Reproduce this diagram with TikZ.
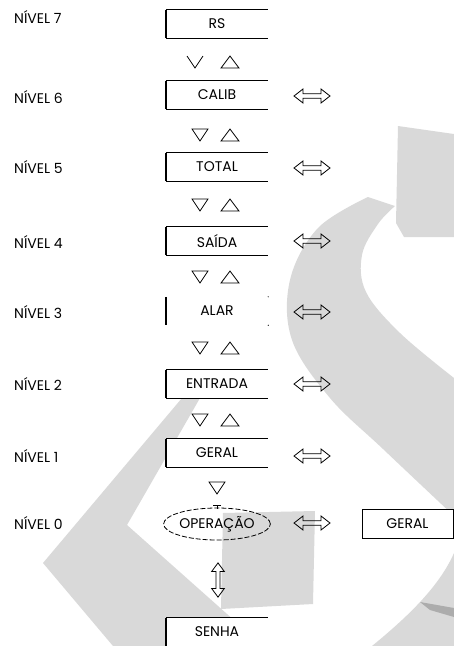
\documentclass[tikz,border=0pt]{standalone}
\usepackage{fontspec}
\setmainfont{Poppins}
\usetikzlibrary{shapes.geometric}
\definecolor{wmgray}{RGB}{217,217,217}
\definecolor{wmdark}{RGB}{172,172,172}
\tikzset{
 txtfont/.style={font=\fontsize{14}{16}\selectfont},
 lbl/.style={anchor=west, inner sep=0pt, txtfont},
 lvlbox/.style={fill=white, draw=none, minimum width=102pt, minimum height=28pt, inner sep=0pt, txtfont},
 edgeline/.style={line width=0.9pt},
 barline/.style={line width=2.2pt},
 glyph/.style={line width=0.8pt},
 wm/.style={fill=wmgray, draw=none},
 hdarrow/.pic={\draw[glyph, line join=miter] (-18,0) -- (-9,-7) -- (-9,-2.2) -- (9,-2.2) -- (9,-7) -- (18,0) -- (9,7) -- (9,2.2) -- (-9,2.2) -- (-9,7) -- cycle;},
 dtri/.pic={\draw[glyph] (-8,-6) -- (8,-6) -- (0,6) -- cycle;},
 utri/.pic={\draw[glyph] (-9,6) -- (9,6) -- (0,-6) -- cycle;},
 vee/.pic={\draw[glyph] (-8,-6) -- (0,6) -- (8,-6);},
}
\newcommand\openbox[1]{\draw[edgeline] (#1.north west) -- (#1.north east) (#1.south west) -- (#1.south east); \draw[barline] (#1.north west) -- (#1.south west);}
\begin{document}
\begin{tikzpicture}[x=1pt,y=-1pt]
\useasboundingbox[fill=white] (0,0) rectangle (454,646);
% watermark
\fill[wm] (398,126) -- (454,134) -- (454,237) -- (404,237) -- (396,223) -- cycle;
\fill[wm] plot[smooth, tension=0.6] coordinates {(368,197) (318,228) (290,280) (292,340) (330,398) (383,449) (454,516)} -- (454,378) -- plot[smooth, tension=0.6] coordinates {(454,378) (400,333) (366,292) (362,255) (378,224) (395,206)} -- cycle;
\fill[wm] (454,553) .. controls (440,585) and (410,615) .. (372,646) -- (454,646) -- cycle;
\fill[wmdark] (420,602) -- (454,608) -- (454,617) -- (430,610) -- cycle;
\fill[wm] (223,513) -- (315,511) -- (313,604) -- (221,609) -- cycle;
\fill[wm] (182,398) -- (200,398) -- (127,525) -- (263,646) -- (113,646) -- (43,563) -- cycle;
% level labels
\node[lbl] (l7) at (14,17) {NÍVEL 7};
\node[lbl] (l6) at (14,97) {NÍVEL 6};
\node[lbl] (l5) at (14,167) {NÍVEL 5};
\node[lbl] (l4) at (14,242) {NÍVEL 4};
\node[lbl] (l3) at (14,312) {NÍVEL 3};
\node[lbl] (l2) at (14,384) {NÍVEL 2};
\node[lbl] (l1) at (14,456) {NÍVEL 1};
\node[lbl] (l0) at (14,523) {NÍVEL 0};
% boxes
\node[lvlbox] (rs) at (217,24) {RS}; \openbox{rs}
\node[lvlbox] (calib) at (217,95) {CALIB}; \openbox{calib}
\node[lvlbox] (total) at (217,167) {TOTAL}; \openbox{total}
\node[lvlbox] (saida) at (217,241) {SAÍDA}; \openbox{saida}
\node[lvlbox] (alar) at (217,311) {ALAR};
\draw[barline] (alar.north west) -- (alar.south west);
\fill (alar.north east) circle (0.6); \fill (alar.south east) circle (0.6);
\node[lvlbox] (entrada) at (217,384) {ENTRADA}; \openbox{entrada}
\node[lvlbox] (geral) at (217,453) {GERAL}; \openbox{geral}
\node[draw, dashed, dash pattern=on 5pt off 2pt, ellipse, line width=0.8pt, minimum width=105pt, minimum height=32pt, inner sep=0pt, txtfont] (oper) at (217,524) {OPERAÇÃO};
\node[draw, line width=0.8pt, fill=white, minimum width=91pt, minimum height=29pt, inner sep=0pt, txtfont] (geral0) at (407.5,523.5) {GERAL};
\node[lvlbox] (senha) at (217,632) {SENHA};
\draw[edgeline] (senha.north west) -- (senha.north east);
\draw[barline] (senha.north west) -- (senha.south west);
% up/down glyphs
\pic at (195,62) {vee}; \pic at (230,62) {utri};
\foreach \yy in {135,205,277,348,420} { \pic at (200,\yy) {dtri}; \pic at (230,\yy) {utri}; }
\pic at (217,488) {dtri};
\draw[glyph] (213,505) -- (221,505) (217,505) -- (217,509);
% double arrows
\foreach \yy in {96,168,241,312,384,456,523} { \pic at (312,\yy) {hdarrow}; }
\pic[rotate=90, xscale=0.95, yscale=0.9] at (218,580) {hdarrow};
\end{tikzpicture}
\end{document}
